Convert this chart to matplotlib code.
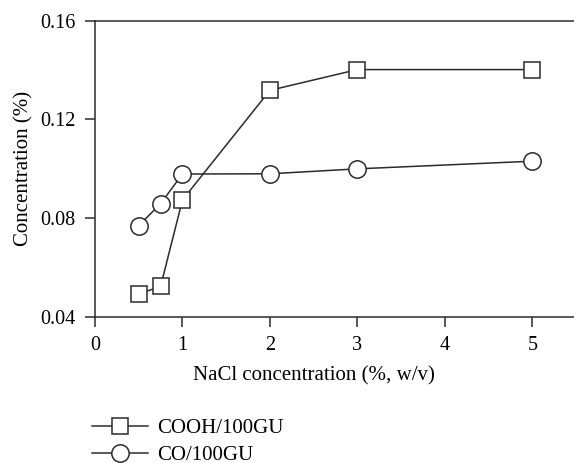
import matplotlib.pyplot as plt

plt.rcParams['font.family'] = ['Liberation Serif', 'DejaVu Serif']

nacl = [0.5, 0.75, 1, 2, 3, 5]
cooh = [0.0493, 0.0524, 0.0874, 0.1318, 0.1402, 0.1402]
co = [0.077, 0.0859, 0.0979, 0.098, 0.100, 0.1031]

fig = plt.figure(figsize=(5.74, 4.63), dpi=100)
ax = fig.add_axes([95 / 574, 1 - 317 / 463, 481 / 574, 296.3 / 463])

line_col = '#2b2b2b'
ax.plot(nacl, cooh, color=line_col, lw=1.1, marker='s', ms=12,
        mfc='white', mec=line_col, mew=1.1, label='COOH/100GU')
ax.plot(nacl, co, color=line_col, lw=1.1, marker='o', ms=12.5,
        mfc='white', mec=line_col, mew=1.1, label='CO/100GU')

ax.set_xlim(0, 5.5)
ax.set_ylim(0.04, 0.16)
ax.set_xticks([0, 1, 2, 3, 4, 5])
ax.set_yticks([0.04, 0.08, 0.12, 0.16])
ax.set_yticklabels(['0.04', '0.08', '0.12', '0.16'])
ax.spines['right'].set_visible(False)
for s in ['left', 'bottom', 'top']:
    ax.spines[s].set_color(line_col)
    ax.spines[s].set_linewidth(1.1)
ax.tick_params(direction='out', length=7, width=1.1, color=line_col,
               labelsize=14.5, pad=7)

# x label sits under the 0-5 span rather than the full axis width
ax.set_xlabel('NaCl concentration (%, w/v)', fontsize=15, labelpad=8)
ax.xaxis.set_label_coords(2.5 / 5.5, -0.165)
ax.set_ylabel('Concentration (%)', fontsize=15, labelpad=5)

ax.legend(loc='upper left', bbox_to_anchor=(-3 / 481, -0.343),
          frameon=False, fontsize=15, handlelength=2.7,
          handletextpad=0.43, labelspacing=0.35, borderaxespad=0,
          borderpad=0)

fig.savefig('out.png', dpi=100)
